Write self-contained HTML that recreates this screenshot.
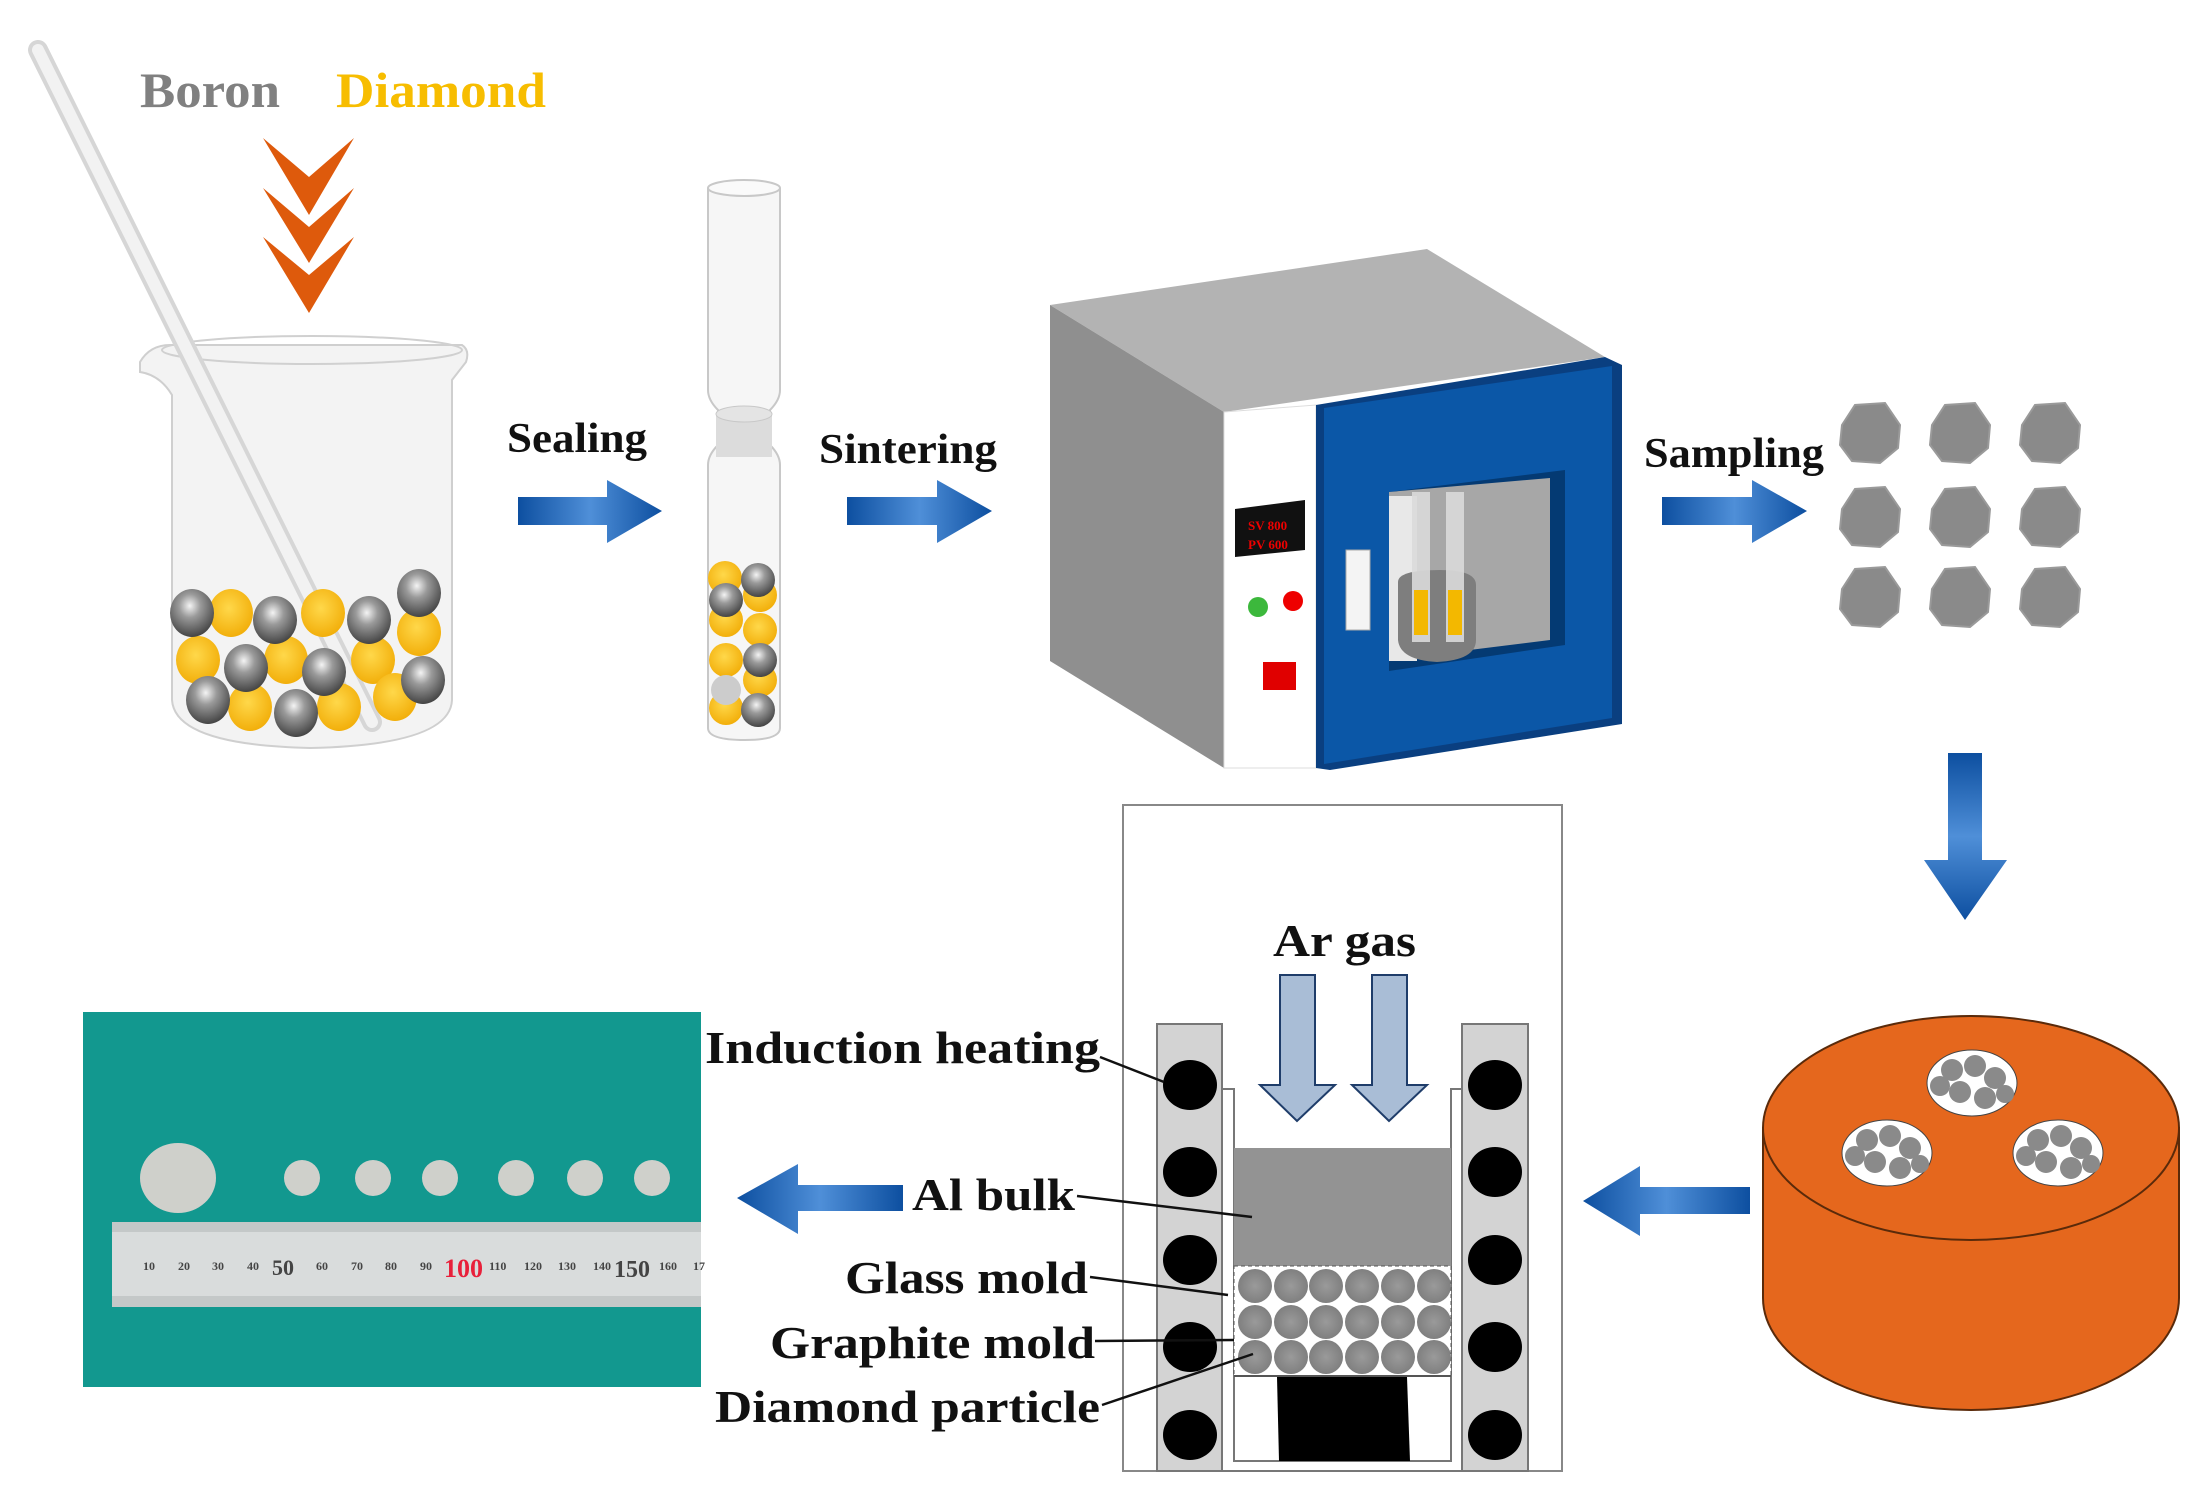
<!DOCTYPE html>
<html><head><meta charset="utf-8"><style>
html,body{margin:0;padding:0;background:#fff;}
svg{display:block;}
text{font-family:"Liberation Serif",serif;font-weight:bold;}
</style></head><body>
<svg width="2211" height="1506" viewBox="0 0 2211 1506" xmlns="http://www.w3.org/2000/svg">
<defs>
<linearGradient id="ar" x1="0" y1="0" x2="1" y2="0">
<stop offset="0" stop-color="#0d4fa0"/><stop offset="0.5" stop-color="#4f8fd8"/><stop offset="1" stop-color="#0d4fa0"/></linearGradient>
<linearGradient id="arv" x1="0" y1="0" x2="0" y2="1">
<stop offset="0" stop-color="#0d4fa0"/><stop offset="0.5" stop-color="#4f8fd8"/><stop offset="1" stop-color="#0d4fa0"/></linearGradient>
<radialGradient id="gb" cx="0.45" cy="0.35" r="0.7"><stop offset="0" stop-color="#f4f4f4"/><stop offset="0.35" stop-color="#9a9a9a"/><stop offset="1" stop-color="#3a3a3a"/></radialGradient>
<radialGradient id="yb" cx="0.45" cy="0.4" r="0.7"><stop offset="0" stop-color="#ffd84a"/><stop offset="1" stop-color="#f0a800"/></radialGradient>
<radialGradient id="pb" cx="0.5" cy="0.5" r="0.6"><stop offset="0" stop-color="#9a9a9a"/><stop offset="1" stop-color="#7a7a7a"/></radialGradient>
</defs>

<text x="140" y="107" font-size="50" fill="#808080" textLength="140" lengthAdjust="spacingAndGlyphs">Boron</text>
<text x="336" y="107" font-size="50" fill="#f7bd00" textLength="210" lengthAdjust="spacingAndGlyphs">Diamond</text>
<g fill="#de5a0c">
<polygon points="263,138 309,177 354,138 309,215"/>
<polygon points="263,188 309,227 354,188 309,263"/>
<polygon points="263,237 309,275 354,237 309,313"/>
</g>

<path d="M140,362 Q150,345 170,345 L462,345 Q470,350 466,362 L452,380 L452,700 Q450,745 310,748 Q175,745 172,700 L172,395 Q160,375 140,372 Z" fill="#f3f3f3" stroke="#cfcfcf" stroke-width="2"/>
<ellipse cx="312" cy="350" rx="150" ry="14" fill="none" stroke="#d0d0d0" stroke-width="2"/>
<line x1="38" y1="50" x2="372" y2="722" stroke="#d6d6d6" stroke-width="20" stroke-linecap="round"/>
<line x1="38" y1="50" x2="372" y2="722" stroke="#f2f2f2" stroke-width="12" stroke-linecap="round"/>
<g>
<ellipse cx="231" cy="613" rx="22" ry="24" fill="url(#yb)"/>
<ellipse cx="323" cy="613" rx="22" ry="24" fill="url(#yb)"/>
<ellipse cx="419" cy="632" rx="22" ry="24" fill="url(#yb)"/>
<ellipse cx="198" cy="660" rx="22" ry="24" fill="url(#yb)"/>
<ellipse cx="286" cy="660" rx="22" ry="24" fill="url(#yb)"/>
<ellipse cx="373" cy="660" rx="22" ry="24" fill="url(#yb)"/>
<ellipse cx="250" cy="707" rx="22" ry="24" fill="url(#yb)"/>
<ellipse cx="339" cy="707" rx="22" ry="24" fill="url(#yb)"/>
<ellipse cx="395" cy="697" rx="22" ry="24" fill="url(#yb)"/>
<ellipse cx="192" cy="613" rx="22" ry="24" fill="url(#gb)"/>
<ellipse cx="275" cy="620" rx="22" ry="24" fill="url(#gb)"/>
<ellipse cx="369" cy="620" rx="22" ry="24" fill="url(#gb)"/>
<ellipse cx="419" cy="593" rx="22" ry="24" fill="url(#gb)"/>
<ellipse cx="246" cy="668" rx="22" ry="24" fill="url(#gb)"/>
<ellipse cx="324" cy="672" rx="22" ry="24" fill="url(#gb)"/>
<ellipse cx="423" cy="680" rx="22" ry="24" fill="url(#gb)"/>
<ellipse cx="208" cy="700" rx="22" ry="24" fill="url(#gb)"/>
<ellipse cx="296" cy="713" rx="22" ry="24" fill="url(#gb)"/>
</g>

<text x="507" y="452" font-size="42" fill="#111" textLength="140" lengthAdjust="spacingAndGlyphs">Sealing</text>
<polygon points="518,497 607,497 607,480 662,511 607,543 607,525 518,525" fill="url(#ar)"/>

<path d="M708,188 L708,390 Q708,400 718,410 L718,445 Q708,455 708,465 L708,728 Q708,740 745,740 Q780,740 780,728 L780,465 Q780,455 770,445 L770,410 Q780,400 780,390 L780,188" fill="#f6f6f6" stroke="#c8c8c8" stroke-width="2"/>
<ellipse cx="744" cy="188" rx="36" ry="8" fill="#fafafa" stroke="#c8c8c8" stroke-width="2"/>
<rect x="716" y="412" width="56" height="45" fill="#dcdcdc"/>
<ellipse cx="744" cy="414" rx="28" ry="8" fill="#e4e4e4" stroke="#c8c8c8"/>
<g>
<circle cx="725" cy="578" r="17" fill="url(#yb)"/><circle cx="760" cy="595" r="17" fill="url(#yb)"/>
<circle cx="726" cy="620" r="17" fill="url(#yb)"/><circle cx="760" cy="630" r="17" fill="url(#yb)"/>
<circle cx="726" cy="660" r="17" fill="url(#yb)"/><circle cx="760" cy="680" r="17" fill="url(#yb)"/>
<circle cx="726" cy="708" r="17" fill="url(#yb)"/><circle cx="726" cy="690" r="15" fill="#ccc"/>
<circle cx="758" cy="580" r="17" fill="url(#gb)"/><circle cx="726" cy="600" r="17" fill="url(#gb)"/>
<circle cx="760" cy="660" r="17" fill="url(#gb)"/><circle cx="758" cy="710" r="17" fill="url(#gb)"/>
</g>

<text x="819" y="463" font-size="42" fill="#111" textLength="178" lengthAdjust="spacingAndGlyphs">Sintering</text>
<polygon points="847,497 937,497 937,480 992,511 937,543 937,525 847,525" fill="url(#ar)"/>

<polygon points="1050,305 1427,249 1605,357 1224,412" fill="#b3b3b3"/>
<polygon points="1050,305 1224,412 1224,768 1050,661" fill="#8f8f8f"/>
<polygon points="1224,412 1316,405 1316,768 1224,768" fill="#ffffff" stroke="#ddd"/>
<polygon points="1316,405 1605,357 1622,365 1622,724 1330,770 1316,768" fill="#0a3f80"/>
<polygon points="1324,408 1612,366 1612,718 1324,764" fill="#0b57a7"/>
<polygon points="1389,492 1565,470 1565,645 1389,671" fill="#043a73"/>
<polygon points="1389,492 1550,478 1550,640 1389,660" fill="#a7a7a7"/>
<rect x="1389" y="496" width="28" height="165" fill="#e8e8e8"/>
<path d="M1398,582 Q1398,570 1440,570 Q1476,570 1476,585 L1476,640 Q1476,660 1437,662 Q1400,660 1398,640 Z" fill="#7e7e7e"/>
<rect x="1412" y="492" width="18" height="150" fill="#dadada" opacity="0.9"/>
<rect x="1446" y="492" width="18" height="150" fill="#dadada" opacity="0.9"/>
<rect x="1414" y="590" width="14" height="45" fill="#f3b800"/>
<rect x="1448" y="590" width="14" height="45" fill="#f3b800"/>
<rect x="1346" y="550" width="24" height="80" fill="#f4f4f4" stroke="#aaa"/>
<polygon points="1235,509 1305,500 1305,550 1235,557" fill="#111"/>
<text x="1248" y="530" font-size="13" fill="#e00" font-family="Liberation Sans,sans-serif">SV 800</text>
<text x="1248" y="549" font-size="13" fill="#e00" font-family="Liberation Sans,sans-serif">PV 600</text>
<circle cx="1258" cy="607" r="10" fill="#3cb83c"/>
<circle cx="1293" cy="601" r="10" fill="#e00"/>
<rect x="1263" y="662" width="33" height="28" fill="#e00000"/>

<text x="1644" y="467" font-size="42" fill="#111" textLength="180" lengthAdjust="spacingAndGlyphs">Sampling</text>
<polygon points="1662,497 1752,497 1752,480 1807,511 1752,543 1752,525 1662,525" fill="url(#ar)"/>

<g fill="#8a8a8a" stroke="#9a9a9a" stroke-width="2">
<polygon points="1842,425 1855,405 1885,403 1900,425 1898,448 1880,463 1852,461 1840,445"/>
<polygon points="1932,425 1945,405 1975,403 1990,425 1988,448 1970,463 1942,461 1930,445"/>
<polygon points="2022,425 2035,405 2065,403 2080,425 2078,448 2060,463 2032,461 2020,445"/>
<polygon points="1842,509 1855,489 1885,487 1900,509 1898,532 1880,547 1852,545 1840,529"/>
<polygon points="1932,509 1945,489 1975,487 1990,509 1988,532 1970,547 1942,545 1930,529"/>
<polygon points="2022,509 2035,489 2065,487 2080,509 2078,532 2060,547 2032,545 2020,529"/>
<polygon points="1842,589 1855,569 1885,567 1900,589 1898,612 1880,627 1852,625 1840,609"/>
<polygon points="1932,589 1945,569 1975,567 1990,589 1988,612 1970,627 1942,625 1930,609"/>
<polygon points="2022,589 2035,569 2065,567 2080,589 2078,612 2060,627 2032,625 2020,609"/>
</g>

<polygon points="1948,753 1982,753 1982,860 2007,860 1965,920 1924,860 1948,860" fill="url(#arv)"/>

<path d="M1763,1128 L1763,1298 A208,112 0 0 0 2179,1298 L2179,1128 Z" fill="#e5671d" stroke="#5a2a0a" stroke-width="2"/>
<ellipse cx="1971" cy="1128" rx="208" ry="112" fill="#e5671d" stroke="#5a2a0a" stroke-width="2"/>
<g>
<ellipse cx="1972" cy="1083" rx="45" ry="33" fill="#fff" stroke="#444"/>
<ellipse cx="1887" cy="1153" rx="45" ry="33" fill="#fff" stroke="#444"/>
<ellipse cx="2058" cy="1153" rx="45" ry="33" fill="#fff" stroke="#444"/>
<g fill="#8a8a8a">
<circle cx="1952" cy="1070" r="11"/><circle cx="1975" cy="1066" r="11"/><circle cx="1995" cy="1078" r="11"/><circle cx="1960" cy="1092" r="11"/><circle cx="1985" cy="1098" r="11"/><circle cx="1940" cy="1086" r="10"/><circle cx="2005" cy="1094" r="9"/>
<circle cx="1867" cy="1140" r="11"/><circle cx="1890" cy="1136" r="11"/><circle cx="1910" cy="1148" r="11"/><circle cx="1875" cy="1162" r="11"/><circle cx="1900" cy="1168" r="11"/><circle cx="1855" cy="1156" r="10"/><circle cx="1920" cy="1164" r="9"/>
<circle cx="2038" cy="1140" r="11"/><circle cx="2061" cy="1136" r="11"/><circle cx="2081" cy="1148" r="11"/><circle cx="2046" cy="1162" r="11"/><circle cx="2071" cy="1168" r="11"/><circle cx="2026" cy="1156" r="10"/><circle cx="2091" cy="1164" r="9"/>
</g></g>

<polygon points="1750,1187 1640,1187 1640,1166 1583,1201 1640,1236 1640,1214 1750,1214" fill="url(#ar)"/>

<!-- furnace diagram -->
<rect x="1123" y="805" width="439" height="666" fill="#fff" stroke="#888" stroke-width="2"/>
<rect x="1157" y="1024" width="65" height="447" fill="#d3d3d3" stroke="#777" stroke-width="2"/>
<rect x="1462" y="1024" width="66" height="447" fill="#d3d3d3" stroke="#777" stroke-width="2"/>
<g fill="#000">
<ellipse cx="1190" cy="1085" rx="27" ry="25"/><ellipse cx="1190" cy="1172" rx="27" ry="25"/><ellipse cx="1190" cy="1260" rx="27" ry="25"/><ellipse cx="1190" cy="1347" rx="27" ry="25"/><ellipse cx="1190" cy="1435" rx="27" ry="25"/>
<ellipse cx="1495" cy="1085" rx="27" ry="25"/><ellipse cx="1495" cy="1172" rx="27" ry="25"/><ellipse cx="1495" cy="1260" rx="27" ry="25"/><ellipse cx="1495" cy="1347" rx="27" ry="25"/><ellipse cx="1495" cy="1435" rx="27" ry="25"/>
</g>
<path d="M1222,1089 L1234,1089 L1234,1461 L1451,1461 L1451,1089 L1462,1089" fill="none" stroke="#777" stroke-width="2"/>
<path d="M1222,1089 L1222,1471 L1462,1471 L1462,1089" fill="none" stroke="#777" stroke-width="2"/>
<rect x="1234" y="1148" width="217" height="118" fill="#939393"/>
<rect x="1234" y="1266" width="217" height="110" fill="#fff" stroke="#555" stroke-width="1" stroke-dasharray="4,3"/>
<g fill="url(#pb)">
<ellipse cx="1255" cy="1286" rx="17" ry="17"/><ellipse cx="1291" cy="1286" rx="17" ry="17"/><ellipse cx="1326" cy="1286" rx="17" ry="17"/><ellipse cx="1362" cy="1286" rx="17" ry="17"/><ellipse cx="1398" cy="1286" rx="17" ry="17"/><ellipse cx="1434" cy="1286" rx="17" ry="17"/>
<ellipse cx="1255" cy="1322" rx="17" ry="17"/><ellipse cx="1291" cy="1322" rx="17" ry="17"/><ellipse cx="1326" cy="1322" rx="17" ry="17"/><ellipse cx="1362" cy="1322" rx="17" ry="17"/><ellipse cx="1398" cy="1322" rx="17" ry="17"/><ellipse cx="1434" cy="1322" rx="17" ry="17"/>
<ellipse cx="1255" cy="1357" rx="17" ry="17"/><ellipse cx="1291" cy="1357" rx="17" ry="17"/><ellipse cx="1326" cy="1357" rx="17" ry="17"/><ellipse cx="1362" cy="1357" rx="17" ry="17"/><ellipse cx="1398" cy="1357" rx="17" ry="17"/><ellipse cx="1434" cy="1357" rx="17" ry="17"/>
</g>
<line x1="1234" y1="1376" x2="1451" y2="1376" stroke="#555" stroke-width="2"/>
<polygon points="1277,1377 1407,1377 1410,1461 1279,1461" fill="#000"/>
<text x="1273" y="956" font-size="46" fill="#111" textLength="143" lengthAdjust="spacingAndGlyphs">Ar gas</text>
<polygon points="1280,975 1315,975 1315,1085 1335,1085 1297,1121 1260,1085 1280,1085" fill="#a9bdd6" stroke="#1f3d6a" stroke-width="2"/>
<polygon points="1372,975 1407,975 1407,1085 1427,1085 1389,1121 1352,1085 1372,1085" fill="#a9bdd6" stroke="#1f3d6a" stroke-width="2"/>

<g font-size="46" fill="#111">
<text x="705" y="1063" textLength="395" lengthAdjust="spacingAndGlyphs">Induction heating</text>
<text x="912" y="1210" textLength="163" lengthAdjust="spacingAndGlyphs">Al bulk</text>
<text x="845" y="1293" textLength="243" lengthAdjust="spacingAndGlyphs">Glass mold</text>
<text x="770" y="1358" textLength="325" lengthAdjust="spacingAndGlyphs">Graphite mold</text>
<text x="715" y="1422" textLength="385" lengthAdjust="spacingAndGlyphs">Diamond particle</text>
</g>
<g stroke="#111" stroke-width="2.5">
<line x1="1100" y1="1057" x2="1164" y2="1082"/>
<line x1="1077" y1="1196" x2="1252" y2="1217"/>
<line x1="1090" y1="1277" x2="1228" y2="1295"/>
<line x1="1095" y1="1341" x2="1234" y2="1340"/>
<line x1="1102" y1="1405" x2="1253" y2="1354"/>
</g>

<polygon points="903,1185 798,1185 798,1164 737,1198 798,1234 798,1211 903,1211" fill="url(#ar)"/>

<rect x="83" y="1012" width="618" height="375" fill="#12988f"/>
<ellipse cx="178" cy="1178" rx="38" ry="35" fill="#cfd0cb"/>
<g fill="#cfd0cb">
<ellipse cx="302" cy="1178" rx="18" ry="18"/><ellipse cx="373" cy="1178" rx="18" ry="18"/><ellipse cx="440" cy="1178" rx="18" ry="18"/><ellipse cx="516" cy="1178" rx="18" ry="18"/><ellipse cx="585" cy="1178" rx="18" ry="18"/><ellipse cx="652" cy="1178" rx="18" ry="18"/>
</g>
<rect x="112" y="1222" width="589" height="85" fill="#d9dcdc"/>
<rect x="112" y="1222" width="589" height="10" fill="#c4c8c8"/>
<rect x="112" y="1296" width="589" height="11" fill="#c4c8c8"/>
<g font-family="Liberation Sans,sans-serif" font-weight="normal" font-size="12" fill="#444">
<text x="143" y="1270">10</text><text x="178" y="1270">20</text><text x="212" y="1270">30</text><text x="247" y="1270">40</text>
<text x="272" y="1275" font-size="22">50</text><text x="316" y="1270">60</text><text x="351" y="1270">70</text><text x="385" y="1270">80</text><text x="420" y="1270">90</text>
<text x="444" y="1277" font-size="26" fill="#e8203a">100</text><text x="489" y="1270">110</text><text x="524" y="1270">120</text><text x="558" y="1270">130</text><text x="593" y="1270">140</text>
<text x="614" y="1277" font-size="24">150</text><text x="659" y="1270">160</text><text x="693" y="1270">17</text>
</g>
</svg>
</body></html>
